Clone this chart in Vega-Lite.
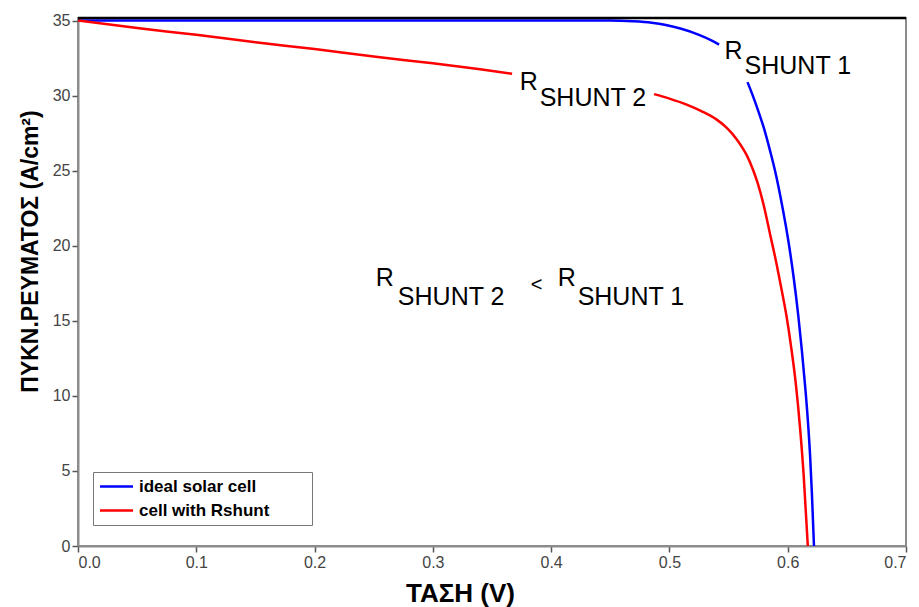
{
  "$schema": "https://vega.github.io/schema/vega-lite/v6.json",
  "width": 828,
  "height": 528,
  "autosize": "none",
  "padding": {"left": 78, "top": 18, "right": 13, "bottom": 61},
  "background": "white",
  "config": {
    "view": {"stroke": "#8c8c8c", "strokeWidth": 2},
    "font": "Liberation Sans",
    "axis": {
      "grid": false,
      "domainColor": "#8c8c8c",
      "domainWidth": 2,
      "tickColor": "#555555",
      "tickWidth": 1.5,
      "tickSize": 6,
      "labelPadding": 2,
      "labelColor": "#444444",
      "labelFontSize": 16,
      "labelFont": "Liberation Sans",
      "titleFont": "Liberation Sans",
      "titleFontWeight": "bold",
      "titleColor": "black"
    }
  },
  "datasets": {
    "curves": [
      {"series": "ideal solar cell", "seg": "b1", "v": 0.0, "j": 35.0},
      {"series": "ideal solar cell", "seg": "b1", "v": 0.1, "j": 35.0},
      {"series": "ideal solar cell", "seg": "b1", "v": 0.2, "j": 35.0},
      {"series": "ideal solar cell", "seg": "b1", "v": 0.3, "j": 35.0},
      {"series": "ideal solar cell", "seg": "b1", "v": 0.4, "j": 35.0},
      {"series": "ideal solar cell", "seg": "b1", "v": 0.45, "j": 35.0},
      {"series": "ideal solar cell", "seg": "b1", "v": 0.469, "j": 34.95},
      {"series": "ideal solar cell", "seg": "b1", "v": 0.485, "j": 34.85},
      {"series": "ideal solar cell", "seg": "b1", "v": 0.497, "j": 34.7},
      {"series": "ideal solar cell", "seg": "b1", "v": 0.51, "j": 34.45},
      {"series": "ideal solar cell", "seg": "b1", "v": 0.525, "j": 34.05},
      {"series": "ideal solar cell", "seg": "b1", "v": 0.535, "j": 33.7},
      {"series": "ideal solar cell", "seg": "b1", "v": 0.542, "j": 33.4},
      {"series": "ideal solar cell", "seg": "b2", "v": 0.566, "j": 30.9},
      {"series": "ideal solar cell", "seg": "b2", "v": 0.57, "j": 30.1},
      {"series": "ideal solar cell", "seg": "b2", "v": 0.575, "j": 29.0},
      {"series": "ideal solar cell", "seg": "b2", "v": 0.58, "j": 27.8},
      {"series": "ideal solar cell", "seg": "b2", "v": 0.585, "j": 26.35},
      {"series": "ideal solar cell", "seg": "b2", "v": 0.59, "j": 24.75},
      {"series": "ideal solar cell", "seg": "b2", "v": 0.595, "j": 22.8},
      {"series": "ideal solar cell", "seg": "b2", "v": 0.601, "j": 20.1},
      {"series": "ideal solar cell", "seg": "b2", "v": 0.605, "j": 17.9},
      {"series": "ideal solar cell", "seg": "b2", "v": 0.609, "j": 15.3},
      {"series": "ideal solar cell", "seg": "b2", "v": 0.612, "j": 13.0},
      {"series": "ideal solar cell", "seg": "b2", "v": 0.615, "j": 10.4},
      {"series": "ideal solar cell", "seg": "b2", "v": 0.617, "j": 8.4},
      {"series": "ideal solar cell", "seg": "b2", "v": 0.619, "j": 5.9},
      {"series": "ideal solar cell", "seg": "b2", "v": 0.6205, "j": 3.4},
      {"series": "ideal solar cell", "seg": "b2", "v": 0.6222, "j": 0.0},
      {"series": "cell with Rshunt", "seg": "r1", "v": 0.0, "j": 35.0},
      {"series": "cell with Rshunt", "seg": "r1", "v": 0.05, "j": 34.5},
      {"series": "cell with Rshunt", "seg": "r1", "v": 0.1, "j": 34.05},
      {"series": "cell with Rshunt", "seg": "r1", "v": 0.15, "j": 33.55},
      {"series": "cell with Rshunt", "seg": "r1", "v": 0.2, "j": 33.1},
      {"series": "cell with Rshunt", "seg": "r1", "v": 0.25, "j": 32.6},
      {"series": "cell with Rshunt", "seg": "r1", "v": 0.3, "j": 32.15},
      {"series": "cell with Rshunt", "seg": "r1", "v": 0.34, "j": 31.75},
      {"series": "cell with Rshunt", "seg": "r1", "v": 0.367, "j": 31.45},
      {"series": "cell with Rshunt", "seg": "r2", "v": 0.487, "j": 30.1},
      {"series": "cell with Rshunt", "seg": "r2", "v": 0.5, "j": 29.8},
      {"series": "cell with Rshunt", "seg": "r2", "v": 0.514, "j": 29.42},
      {"series": "cell with Rshunt", "seg": "r2", "v": 0.527, "j": 28.97},
      {"series": "cell with Rshunt", "seg": "r2", "v": 0.54, "j": 28.4},
      {"series": "cell with Rshunt", "seg": "r2", "v": 0.5485, "j": 27.85},
      {"series": "cell with Rshunt", "seg": "r2", "v": 0.5568, "j": 27.1},
      {"series": "cell with Rshunt", "seg": "r2", "v": 0.5652, "j": 26.05},
      {"series": "cell with Rshunt", "seg": "r2", "v": 0.57, "j": 25.2},
      {"series": "cell with Rshunt", "seg": "r2", "v": 0.5745, "j": 24.2},
      {"series": "cell with Rshunt", "seg": "r2", "v": 0.58, "j": 22.6},
      {"series": "cell with Rshunt", "seg": "r2", "v": 0.585, "j": 20.8},
      {"series": "cell with Rshunt", "seg": "r2", "v": 0.59, "j": 19.0},
      {"series": "cell with Rshunt", "seg": "r2", "v": 0.595, "j": 17.0},
      {"series": "cell with Rshunt", "seg": "r2", "v": 0.599, "j": 15.3},
      {"series": "cell with Rshunt", "seg": "r2", "v": 0.603, "j": 13.2},
      {"series": "cell with Rshunt", "seg": "r2", "v": 0.607, "j": 10.7},
      {"series": "cell with Rshunt", "seg": "r2", "v": 0.6105, "j": 7.8},
      {"series": "cell with Rshunt", "seg": "r2", "v": 0.6135, "j": 4.7},
      {"series": "cell with Rshunt", "seg": "r2", "v": 0.617, "j": 0.0}
    ],
    "labels": [
      {"v": 0.5466, "j": 32.41, "text": "R"},
      {"v": 0.5635, "j": 31.44, "text": "SHUNT 1"},
      {"v": 0.3734, "j": 30.37, "text": "R"},
      {"v": 0.3903, "j": 29.31, "text": "SHUNT 2"},
      {"v": 0.2518, "j": 17.29, "text": "R"},
      {"v": 0.2704, "j": 16.07, "text": "SHUNT 2"},
      {"v": 0.4055, "j": 17.29, "text": "R"},
      {"v": 0.4224, "j": 16.07, "text": "SHUNT 1"}
    ],
    "lt": [
      {"v": 0.3878, "j": 17.4, "text": "<"}
    ],
    "frame": [
      {"j": 35.17}
    ]
  },
  "layer": [
    {
      "data": {"name": "curves"},
      "mark": {"type": "line", "strokeWidth": 2.5, "interpolate": "monotone"},
      "encoding": {
        "x": {
          "field": "v", "type": "quantitative",
          "scale": {"domain": [0, 0.7], "nice": false, "zero": false},
          "axis": {
            "title": "ΤΑΣΗ (V)",
            "values": [0, 0.1, 0.2, 0.3, 0.4, 0.5, 0.6, 0.7],
            "format": ".1f",
            "titleFontSize": 26,
            "titleX": 382,
            "titleY": 55,
            "titleBaseline": "alphabetic"
          }
        },
        "y": {
          "field": "j", "type": "quantitative",
          "scale": {"domain": [0, 35.17], "nice": false},
          "axis": {
            "title": "ΠΥΚΝ.ΡΕΥΜΑΤΟΣ (A/cm²)",
            "values": [0, 5, 10, 15, 20, 25, 30, 35],
            "titleFontSize": 23,
            "titleX": -41,
            "titleY": 233,
            "titleBaseline": "alphabetic"
          }
        },
        "color": {
          "field": "series", "type": "nominal",
          "scale": {"domain": ["ideal solar cell", "cell with Rshunt"], "range": ["#0000ff", "#ff0000"]},
          "legend": {
            "title": null,
            "orient": "none",
            "legendX": 15,
            "legendY": 454,
            "symbolType": "M-3.3,0H3.3",
            "symbolSize": 100,
            "symbolOffset": 9,
            "symbolStrokeWidth": 2.5,
            "labelFontSize": 17,
            "labelFontWeight": "bold",
            "labelColor": "black",
            "labelOffset": 14,
            "labelLimit": 400,
            "rowPadding": 6,
            "padding": 6,
            "strokeColor": "#777777",
            "fillColor": "white",
            "labelExpr": "datum.label + '\u2800\u2800\u2800'"
          }
        },
        "detail": {"field": "seg"}
      }
    },
    {
      "data": {"name": "frame"},
      "mark": {"type": "rule", "color": "black", "strokeWidth": 2.5},
      "encoding": {"y": {"field": "j", "type": "quantitative"}}
    },
    {
      "data": {"name": "labels"},
      "mark": {"type": "text", "fontSize": 25, "font": "Liberation Sans", "align": "left", "baseline": "alphabetic", "color": "black"},
      "encoding": {
        "x": {"field": "v", "type": "quantitative"},
        "y": {"field": "j", "type": "quantitative"},
        "text": {"field": "text"}
      }
    },
    {
      "data": {"name": "lt"},
      "mark": {"type": "text", "fontSize": 20, "font": "Liberation Sans", "align": "center", "baseline": "middle", "color": "black"},
      "encoding": {
        "x": {"field": "v", "type": "quantitative"},
        "y": {"field": "j", "type": "quantitative"},
        "text": {"field": "text"}
      }
    }
  ]
}
